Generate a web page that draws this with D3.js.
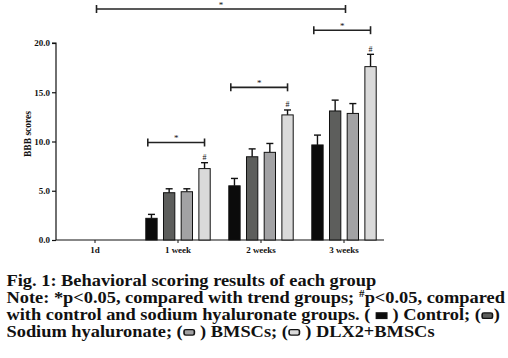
<!DOCTYPE html>
<html>
<head>
<meta charset="utf-8">
<script src="https://cdn.jsdelivr.net/npm/d3@7"></script>
<style>
  body { margin: 0; background: #fff; }
  svg { display: block; }
  text { font-family: "Liberation Serif", "Times New Roman", serif; font-weight: bold; fill: #111; }
</style>
</head>
<body>
<svg id="chart" width="508" height="358"></svg>
<script>
// ---- data ----
var groups = ["1d", "1 week", "2 weeks", "3 weeks"];
var series = ["Control", "Sodium hyaluronate", "BMSCs", "DLX2+BMSCs"];
var colors = ["#0b0b0b", "#5d5e5c", "#a2a2a4", "#dadada"];
var means = {
  "1 week":  [2.2, 4.8, 4.9, 7.25],
  "2 weeks": [5.5, 8.45, 8.9, 12.7],
  "3 weeks": [9.65, 13.1, 12.85, 17.6]
};
var errs = {
  "1 week":  [0.4, 0.4, 0.3, 0.6],
  "2 weeks": [0.75, 0.8, 0.9, 0.5],
  "3 weeks": [1.0, 1.1, 1.0, 1.25]
};
var yTicks = [0, 5, 10, 15, 20];
var hashGroups = ["1 week", "2 weeks", "3 weeks"];
// significance brackets: [from group, to group, level]
var brackets = [
  ["1 week", "1 week", 9.9],
  ["2 weeks", "2 weeks", 15.5],
  ["3 weeks", "3 weeks", 21.3],
  ["1d", "3 weeks", 23.45]
];

var svg = d3.select("#chart");

var y = d3.scaleLinear().domain([0, 20]).range([240, 43]);
var x0 = d3.scaleBand().domain(groups).range([53.5, 385.5]);
var x1 = d3.scaleBand().domain(series).range([-32.2, 32.2]).paddingInner(0.36);
var cx = function (g) { return x0(g) + x0.bandwidth() / 2; };

// y axis
var yAxis = d3.axisLeft(y).tickValues(yTicks).tickFormat(d3.format(".1f")).tickSize(4).tickPadding(2);
var gy = svg.append("g").attr("transform", "translate(56,0)").call(yAxis);
gy.select(".domain").attr("d", "M-4,43H0V240").attr("stroke", "#111").attr("stroke-width", 1.2);
gy.selectAll(".tick line").attr("stroke", "#111").attr("stroke-width", 1.2);
gy.selectAll(".tick text").style("font-size", "9px").style("font-family", "Liberation Serif").style("font-weight", "bold").attr("fill", "#111");

svg.append("text")
  .attr("transform", "translate(31,134) rotate(-90)")
  .attr("text-anchor", "middle")
  .style("font-size", "9.5px")
  .text("BBB scores");

// x axis
var gx = svg.append("g").attr("transform", "translate(0,240)");
gx.append("line").attr("x1", 56).attr("x2", 384).attr("stroke", "#111").attr("stroke-width", 1.2);
gx.selectAll(".xt").data(groups).enter().append("line")
  .attr("x1", cx).attr("x2", cx).attr("y1", 0).attr("y2", 3)
  .attr("stroke", "#111").attr("stroke-width", 1);
gx.selectAll(".xl").data(groups).enter().append("text")
  .attr("x", cx).attr("y", 13)
  .attr("text-anchor", "middle")
  .style("font-size", "9px")
  .text(function (d) { return d; });

// bars
var rows = [];
groups.forEach(function (g) {
  if (!means[g]) return;
  series.forEach(function (s, i) {
    rows.push({ g: g, s: s, i: i, v: means[g][i], e: errs[g][i] });
  });
});

var bx = function (d) { return cx(d.g) + x1(d.s); };
var bw = x1.bandwidth();

// error bars (upper only)
var eb = svg.append("g").attr("stroke", "#111").attr("stroke-width", 1.4);
eb.selectAll(".ev").data(rows).enter().append("line")
  .attr("x1", function (d) { return bx(d) + bw / 2; })
  .attr("x2", function (d) { return bx(d) + bw / 2; })
  .attr("y1", function (d) { return y(d.v); })
  .attr("y2", function (d) { return y(d.v + d.e); });
eb.selectAll(".ec").data(rows).enter().append("line")
  .attr("x1", function (d) { return bx(d) + bw / 2 - 3.5; })
  .attr("x2", function (d) { return bx(d) + bw / 2 + 3.5; })
  .attr("y1", function (d) { return y(d.v + d.e); })
  .attr("y2", function (d) { return y(d.v + d.e); });

svg.append("g").selectAll("rect").data(rows).enter().append("rect")
  .attr("x", bx)
  .attr("y", function (d) { return y(d.v); })
  .attr("width", bw)
  .attr("height", function (d) { return y(0) - y(d.v); })
  .attr("fill", function (d) { return colors[d.i]; })
  .attr("stroke", "#111")
  .attr("stroke-width", 1);

// # markers
svg.selectAll(".hash").data(hashGroups).enter().append("text")
  .attr("x", function (g) { return cx(g) + x1(series[3]) + bw / 2; })
  .attr("y", function (g) { return y(means[g][3] + errs[g][3]) - 2.5; })
  .attr("text-anchor", "middle")
  .style("font-size", "8px")
  .style("font-weight", "normal")
  .text("#");

// brackets
var bl = function (b) { return cx(b[0]) + (b[0] === "1d" ? 1.5 : x1(series[0]) + 2); };
var br = function (b) { return cx(b[1]) + (b[0] === "1d" ? 1.5 : x1(series[3]) + bw / 2); };
var gb = svg.append("g").attr("stroke", "#222").attr("stroke-width", 1.6).attr("fill", "none");
gb.selectAll(".bh").data(brackets).enter().append("line")
  .attr("x1", bl).attr("x2", br)
  .attr("y1", function (b) { return y(b[2]); }).attr("y2", function (b) { return y(b[2]); });
gb.selectAll(".bl").data(brackets).enter().append("line")
  .attr("x1", bl).attr("x2", bl)
  .attr("y1", function (b) { return y(b[2]) - 4; }).attr("y2", function (b) { return y(b[2]) + 4; });
gb.selectAll(".br").data(brackets).enter().append("line")
  .attr("x1", br).attr("x2", br)
  .attr("y1", function (b) { return y(b[2]) - 4; }).attr("y2", function (b) { return y(b[2]) + 4; });
svg.selectAll(".star").data(brackets).enter().append("text")
  .attr("x", function (b) { return (bl(b) + br(b)) / 2; })
  .attr("y", function (b) { return y(b[2]) - 1.5; })
  .attr("text-anchor", "middle")
  .style("font-size", "9px")
  .style("font-weight", "normal")
  .text("*");

// ---- caption ----
var capLines = [
  [{ t: "Fig. 1: Behavioral scoring results of each group" }],
  [{ t: "Note: *p<0.05, compared with trend groups; " }, { sup: "#" }, { t: "p<0.05, compared" }],
  [{ t: "with control and sodium hyaluronate groups. ( " }, { sw: 0 }, { t: " ) Control; (" }, { sw: 1 }, { t: ")" }],
  [{ t: "Sodium hyaluronate; (" }, { sw: 2 }, { t: " ) BMSCs; (" }, { sw: 3 }, { t: " ) DLX2+BMSCs" }]
];
var capBase = [286.5, 303.2, 319.9, 336.6];
var fs = 16;
var capLeft = 6.5, capRight = 505;
var cap = svg.append("g");
var lineWidths = [];
capLines.forEach(function (line, li) {
  var xx = 0, yy = capBase[li];
  var lg = cap.append("g").attr("class", "capline");
  line.forEach(function (seg) {
    if (seg.t !== undefined || seg.sup !== undefined) {
      var sup = seg.sup !== undefined;
      var t = lg.append("text")
        .attr("x", xx).attr("y", sup ? yy - 6 : yy)
        .style("font-size", (sup ? fs * 0.6 : fs) + "px")
        .attr("xml:space", "preserve")
        .text(sup ? seg.sup : seg.t);
      xx += t.node().getComputedTextLength();
    } else {
      lg.append("rect")
        .attr("x", xx + 1).attr("y", yy - 7)
        .attr("width", 9).attr("height", 5.5)
        .attr("rx", seg.sw === 0 ? 0 : 1.5)
        .attr("fill", colors[seg.sw])
        .attr("stroke", "#111").attr("stroke-width", 1.4);
      xx += 11;
    }
  });
  lineWidths.push(xx);
});
// the printed caption is set a little wider than Liberation Serif: stretch to the reference width
var sx = (capRight - capLeft) / lineWidths[1];
cap.selectAll(".capline").attr("transform", "translate(" + capLeft + ",0) scale(" + sx + ",1)");
</script>
</body>
</html>
